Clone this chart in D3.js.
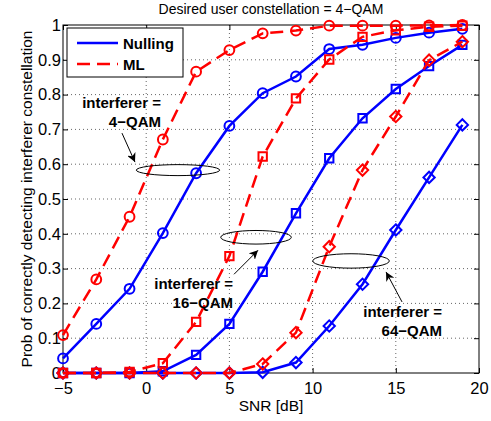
<!DOCTYPE html>
<html>
<head>
<meta charset="utf-8">
<script src="https://cdn.jsdelivr.net/npm/d3@7"></script>
<style>
  body { margin: 0; background: #fff; }
  text { font-family: "Liberation Sans", Arial, Helvetica, sans-serif; }
</style>
</head>
<body>
<svg id="chart" width="491" height="421"></svg>
<script>
// SNR points
var snr = [-5, -3, -1, 1, 3, 5, 7, 9, 11, 13, 15, 17, 19]

// prob of detecting interferer constellation
var nulling4  = [0.042, 0.141, 0.242, 0.402, 0.574, 0.710, 0.804, 0.852, 0.931, 0.943, 0.963, 0.978, 0.989]
var ml4       = [0.109, 0.269, 0.449, 0.671, 0.866, 0.928, 0.976, 0.984, 0.998, 0.998, 0.998, 0.999, 1.000]
var nulling16 = [0, 0, 0, 0.005, 0.052, 0.141, 0.291, 0.459, 0.617, 0.732, 0.816, 0.882, 0.943]
var ml16      = [0, 0, 0.003, 0.028, 0.147, 0.336, 0.622, 0.789, 0.901, 0.966, 0.985, 0.995, 0.998]
var nulling64 = [0, 0, 0, 0, 0, 0, 0.002, 0.030, 0.135, 0.255, 0.411, 0.562, 0.713]
var ml64      = [0, 0, 0, 0, 0, 0, 0.026, 0.116, 0.363, 0.583, 0.737, 0.899, 0.952]

var xTicks = [-5, 0, 5, 10, 15, 20]
var yTicks = [0, 0.1, 0.2, 0.3, 0.4, 0.5, 0.6, 0.7, 0.8, 0.9, 1]

var titleText = "Desired user constellation = 4\u2212QAM"
var xLabel = "SNR [dB]"
var yLabel = "Prob of correctly detecting interferer constellation"
var legendNames = ["Nulling", "ML"]

// annotations: ellipse centre (data units), label lines
var notes = [
  {cx: 1.91, cy: 0.583, lines: ["interferer =", "4\u2212QAM"]},
  {cx: 6.6,  cy: 0.390, lines: ["interferer =", "16\u2212QAM"]},
  {cx: 12.31, cy: 0.322, lines: ["interferer =", "64\u2212QAM"]}
]

window.onload = () => {
  draw_chart()
}

function draw_chart(){
  var svg = d3.select("#chart")
  var margin = {top: 25, right: 12, bottom: 48, left: 63},
      width = 491 - margin.left - margin.right,
      height = 421 - margin.top - margin.bottom

  var g = svg.append("g")
    .attr("transform", "translate(" + margin.left + "," + margin.top + ")")

  var x = d3.scaleLinear().domain([-5, 20]).range([0, width])
  var y = d3.scaleLinear().domain([0, 1]).range([height, 0])

  // grid
  g.append("g").selectAll("line")
    .data(xTicks.slice(1, -1))
    .enter().append("line")
      .attr("x1", d => x(d)).attr("x2", d => x(d))
      .attr("y1", 0).attr("y2", height)
      .attr("stroke", "#666").attr("stroke-dasharray", "1,3")
  g.append("g").selectAll("line")
    .data(yTicks.slice(1, -1))
    .enter().append("line")
      .attr("y1", d => y(d)).attr("y2", d => y(d))
      .attr("x1", 0).attr("x2", width)
      .attr("stroke", "#666").attr("stroke-dasharray", "1,3")

  // axes (ticks inward, matlab style)
  var xAxis = g.append("g")
    .attr("transform", "translate(0," + height + ")")
    .call(d3.axisBottom(x).tickValues(xTicks).tickSizeInner(-5).tickSizeOuter(0).tickPadding(9)
      .tickFormat(d => d < 0 ? "\u2212" + Math.abs(d) : d))
  var yAxis = g.append("g")
    .call(d3.axisLeft(y).tickValues(yTicks).tickSizeInner(-5).tickSizeOuter(0).tickPadding(2)
      .tickFormat(d => d))
  g.append("g")
    .call(d3.axisTop(x).tickValues(xTicks).tickSizeInner(-5).tickSizeOuter(0).tickFormat(""))
  g.append("g")
    .attr("transform", "translate(" + width + ",0)")
    .call(d3.axisRight(y).tickValues(yTicks).tickSizeInner(-5).tickSizeOuter(0).tickFormat(""))
  g.selectAll(".domain").remove()
  g.selectAll(".tick line").attr("stroke", "#000")
  xAxis.selectAll("text").style("font-size", "16.5px").attr("fill", "#000")
  yAxis.selectAll("text").style("font-size", "16.5px").attr("fill", "#000")

  g.append("rect")
    .attr("width", width).attr("height", height)
    .attr("fill", "none").attr("stroke", "#000").attr("stroke-width", 1)

  // series
  var series = [
    {vals: nulling4,  color: "#0000ff", dash: null,   marker: "circle"},
    {vals: nulling16, color: "#0000ff", dash: null,   marker: "square"},
    {vals: nulling64, color: "#0000ff", dash: null,   marker: "diamond"},
    {vals: ml4,       color: "#ff0000", dash: "13,7", marker: "circle"},
    {vals: ml16,      color: "#ff0000", dash: "13,7", marker: "square"},
    {vals: ml64,      color: "#ff0000", dash: "13,7", marker: "diamond"}
  ]

  var line = d3.line()
    .x((d, i) => x(snr[i]))
    .y(d => y(d))

  // matlab diamond: square turned 45 degrees
  var matDiamond = {
    draw: function(ctx, size){
      var r = Math.sqrt(size / 2)
      ctx.moveTo(0, -r); ctx.lineTo(r, 0); ctx.lineTo(0, r); ctx.lineTo(-r, 0); ctx.closePath()
    }
  }
  var symbols = {
    circle: d3.symbol().type(d3.symbolCircle).size(75),
    square: d3.symbol().type(d3.symbolSquare).size(70),
    diamond: d3.symbol().type(matDiamond).size(64)
  }

  series.forEach(function(s){
    g.append("path")
      .datum(s.vals)
      .attr("fill", "none")
      .attr("stroke", s.color)
      .attr("stroke-width", 2.5)
      .attr("stroke-dasharray", s.dash)
      .attr("d", line)
    g.append("g").selectAll("path")
      .data(s.vals)
      .enter().append("path")
        .attr("transform", (d, i) => "translate(" + x(snr[i]) + "," + y(d) + ")")
        .attr("d", symbols[s.marker])
        .attr("fill", "none")
        .attr("stroke", s.color)
        .attr("stroke-width", 2)
  })

  // annotations
  var ell = [{rx: 41.7, ry: 5.5}, {rx: 35.3, ry: 6.8}, {rx: 38.3, ry: 7.2}]
  // label anchor (right edge, first baseline) and arrow, as px offsets from ellipse centre
  var lab = [{dx: -17, dy: -62}, {dx: -23, dy: 52}, {dx: 91, dy: 56}]
  var arr = [[-56, -37, -43, -8], [-22, 37, 2, 13], [51, 41, 35, 11]]

  svg.append("defs").append("marker")
    .attr("id", "head")
    .attr("viewBox", "0 0 10 10")
    .attr("refX", 10).attr("refY", 5)
    .attr("markerWidth", 9).attr("markerHeight", 9)
    .attr("markerUnits", "userSpaceOnUse")
    .attr("orient", "auto")
    .append("path").attr("d", "M0,0 L10,5 L0,10 L3,5 Z").attr("fill", "#000")

  notes.forEach(function(n, i){
    var cx = x(n.cx), cy = y(n.cy)
    g.append("ellipse")
      .attr("cx", cx).attr("cy", cy)
      .attr("rx", ell[i].rx).attr("ry", ell[i].ry)
      .attr("fill", "none").attr("stroke", "#000").attr("stroke-width", 1)
    g.append("line")
      .attr("x1", cx + arr[i][0]).attr("y1", cy + arr[i][1])
      .attr("x2", cx + arr[i][2]).attr("y2", cy + arr[i][3])
      .attr("stroke", "#000").attr("stroke-width", 1)
      .attr("marker-end", "url(#head)")
    var t = g.append("text")
      .attr("text-anchor", "end")
      .style("font-size", "15px").style("font-weight", "bold")
    n.lines.forEach(function(l, j){
      t.append("tspan")
        .attr("x", cx + lab[i].dx)
        .attr("y", cy + lab[i].dy + j * 19)
        .text(l)
    })
  })

  // legend
  var leg = svg.append("g")
  leg.append("rect")
    .attr("x", 67).attr("y", 28).attr("width", 116).attr("height", 49)
    .attr("fill", "#fff").attr("stroke", "#000").attr("stroke-width", 1)
  var legStyle = [{color: "#0000ff", dash: null}, {color: "#ff0000", dash: "13,7"}]
  legendNames.forEach(function(name, i){
    leg.append("line")
      .attr("x1", 77).attr("x2", 118)
      .attr("y1", 43 + i * 21).attr("y2", 43 + i * 21)
      .attr("stroke", legStyle[i].color).attr("stroke-width", 2.5)
      .attr("stroke-dasharray", legStyle[i].dash)
    leg.append("text")
      .attr("x", 123).attr("y", 48.5 + i * 21)
      .style("font-size", "15px").style("font-weight", "bold")
      .text(name)
  })

  // titles
  svg.append("text")
    .attr("x", margin.left + width / 2).attr("y", 14)
    .attr("text-anchor", "middle")
    .style("font-size", "14px")
    .text(titleText)
  svg.append("text")
    .attr("x", margin.left + width / 2).attr("y", 411)
    .attr("text-anchor", "middle")
    .style("font-size", "15.5px")
    .text(xLabel)
  svg.append("text")
    .attr("transform", "translate(32," + (margin.top + height / 2) + ") rotate(-90)")
    .attr("text-anchor", "middle")
    .style("font-size", "15.5px")
    .text(yLabel)
}
</script>
</body>
</html>
